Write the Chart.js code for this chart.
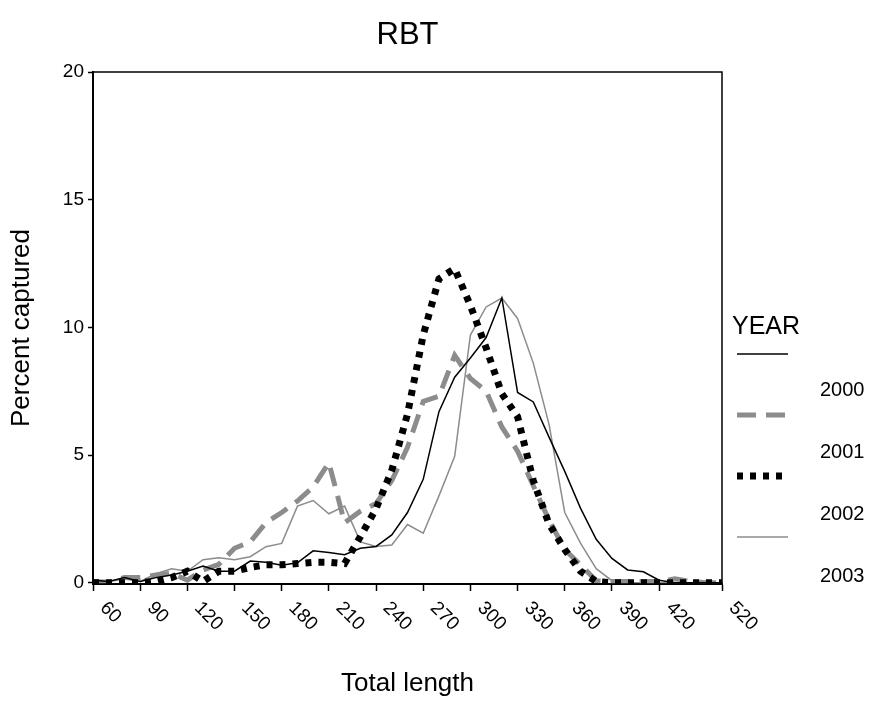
<!DOCTYPE html>
<html>
<head>
<meta charset="utf-8">
<title>RBT</title>
<script src="https://cdn.jsdelivr.net/npm/chart.js@4.4.1/dist/chart.umd.min.js"></script>
<style>
  html, body { margin: 0; padding: 0; background: #fff; }
</style>
</head>
<body>
<canvas id="chart" width="873" height="702"></canvas>
<script>
const TITLE = 'RBT';
const FONT = '"Liberation Sans", Arial, sans-serif';

// total length classes (mm) on the category axis
const CATEGORIES = ['60', '70', '80', '90', '100', '110', '120', '130', '140', '150',
  '160', '170', '180', '190', '200', '210', '220', '230', '240', '250',
  '260', '270', '280', '290', '300', '310', '320', '330', '340', '350',
  '360', '370', '380', '390', '400', '410', '420', '430', '440', '450', '520'];
const TICK_LABELS = ['60', '90', '120', '150', '180', '210', '240', '270', '300',
  '330', '360', '390', '420', '520'];
const Y_TICKS = [0, 5, 10, 15, 20];
const YEARS = ['2000', '2001', '2002', '2003'];

// percent captured per length class
const PCT_2000 = [0.1, 0.05, 0.2, 0.05, 0.2, 0.3, 0.45, 0.65, 0.45, 0.45,
  0.85, 0.8, 0.68, 0.78, 1.25, 1.18, 1.1, 1.35, 1.42, 1.87,
  2.75, 4.05, 6.7, 8.05, 8.8, 9.6, 11.15, 7.45, 7.08, 5.7,
  4.36, 2.92, 1.7, 0.95, 0.5, 0.43, 0.1, 0, 0, 0, 0];
const PCT_2001 = [0.05, 0.02, 0.2, 0.2, 0.3, 0.37, 0.1, 0.5, 0.72, 1.35,
  1.6, 2.35, 2.75, 3.2, 3.75, 4.7, 2.35, 2.8, 3.1, 4.0,
  5.3, 7.1, 7.3, 8.9, 8.0, 7.5, 6.1, 5.15, 3.8, 2.45,
  1.3, 0.7, 0.08, 0.05, 0.05, 0.05, 0.05, 0.15, 0.05, 0, 0];
const PCT_2002 = [0, 0, 0, 0, 0.05, 0.2, 0.45, 0.05, 0.45, 0.45,
  0.6, 0.7, 0.7, 0.75, 0.8, 0.8, 0.75, 1.8, 2.9, 4.4,
  6.6, 9.7, 11.9, 12.3, 10.85, 9.2, 7.4, 6.5, 4.0, 2.3,
  1.3, 0.45, 0.05, 0, 0, 0, 0, 0, 0, 0, 0];
const PCT_2003 = [0.05, 0.05, 0.15, 0.05, 0.35, 0.55, 0.45, 0.9, 0.98, 0.9,
  1.02, 1.41, 1.54, 3.0, 3.22, 2.7, 3.0, 1.6, 1.42, 1.48,
  2.28, 1.94, 3.4, 4.95, 9.7, 10.8, 11.15, 10.35, 8.6, 6.2,
  2.75, 1.55, 0.55, 0.08, 0, 0, 0, 0, 0, 0, 0];

const GREY = '#8c8c8c';

// frame, title, rotated x labels and the SPSS-style legend
const decor = {
  id: 'decor',
  afterDraw(chart) {
    const { ctx, chartArea: a, scales: { x } } = chart;
    ctx.save();
    ctx.strokeStyle = '#000';
    ctx.lineWidth = 1.5;
    ctx.strokeRect(a.left, a.top, a.right - a.left, a.bottom - a.top);

    ctx.fillStyle = '#000';
    ctx.textBaseline = 'middle';
    ctx.textAlign = 'center';
    ctx.font = `31px ${FONT}`;
    ctx.fillText(TITLE, (a.left + a.right) / 2, 35);

    ctx.font = `19px ${FONT}`;
    ctx.textAlign = 'left';
    CATEGORIES.forEach((c, i) => {
      if (!TICK_LABELS.includes(c)) return;
      ctx.save();
      ctx.translate(x.getPixelForValue(i) + 10, a.bottom + 21);
      ctx.rotate(Math.PI / 4);
      ctx.fillText(c, 0, 0);
      ctx.restore();
    });

    ctx.font = `25px ${FONT}`;
    ctx.fillText('YEAR', 732, 327);
    ctx.font = `20px ${FONT}`;
    chart.data.datasets.forEach((ds, i) => {
      const ly = 354 + i * 61;
      ctx.save();
      ctx.strokeStyle = ds.borderColor;
      ctx.lineWidth = ds.borderWidth;
      ctx.setLineDash(ds.borderDash || []);
      ctx.beginPath();
      ctx.moveTo(737, ly);
      ctx.lineTo(788, ly);
      ctx.stroke();
      ctx.restore();
      ctx.fillText(ds.label, 820, 390 + i * 62);
    });
    ctx.restore();
  }
};

new Chart(document.getElementById('chart'), {
  type: 'line',
  plugins: [decor],
  data: {
    labels: CATEGORIES,
    datasets: [
      { label: YEARS[0], data: PCT_2000, borderColor: '#000', borderWidth: 1.5, order: 1 },
      { label: YEARS[1], data: PCT_2001, borderColor: GREY, borderWidth: 5, borderDash: [19, 10], order: 3 },
      { label: YEARS[2], data: PCT_2002, borderColor: '#000', borderWidth: 7, borderDash: [6, 7], order: 2 },
      { label: YEARS[3], data: PCT_2003, borderColor: GREY, borderWidth: 1.5, order: 4 },
    ],
  },
  options: {
    responsive: false,
    animation: false,
    events: [],
    layout: { padding: { top: 72, right: 151, left: 0, bottom: 0 } },
    elements: {
      point: { radius: 0 },
      line: { tension: 0, borderCapStyle: 'butt', fill: false },
    },
    plugins: {
      legend: { display: false },
      title: { display: false },
      tooltip: { enabled: false },
    },
    scales: {
      x: {
        type: 'category',
        offset: false,
        afterFit: s => { s.height = 118; },
        ticks: { display: false, autoSkip: false },
        grid: {
          drawOnChartArea: false,
          tickLength: 7,
          tickWidth: 1.5,
          tickColor: c => TICK_LABELS.includes(CATEGORIES[c.index]) ? '#000' : 'rgba(0,0,0,0)',
        },
        border: { color: '#000', width: 2 },
        title: {
          display: true,
          text: 'Total length',
          color: '#000',
          font: { family: FONT, size: 26 },
          padding: { bottom: 3 },
        },
      },
      y: {
        min: -0.05,
        max: 20,
        afterFit: s => { s.width = 93; },
        afterBuildTicks: s => { s.ticks = Y_TICKS.map(v => ({ value: v })); },
        ticks: { color: '#000', font: { family: FONT, size: 19 }, padding: 4 },
        grid: { drawOnChartArea: false, tickLength: 5, color: '#000', tickWidth: 1.5 },
        border: { color: '#000', width: 2 },
        title: {
          display: true,
          text: 'Percent captured',
          color: '#000',
          font: { family: FONT, size: 26 },
          padding: { top: 6 },
        },
      },
    },
  },
});
</script>
</body>
</html>
